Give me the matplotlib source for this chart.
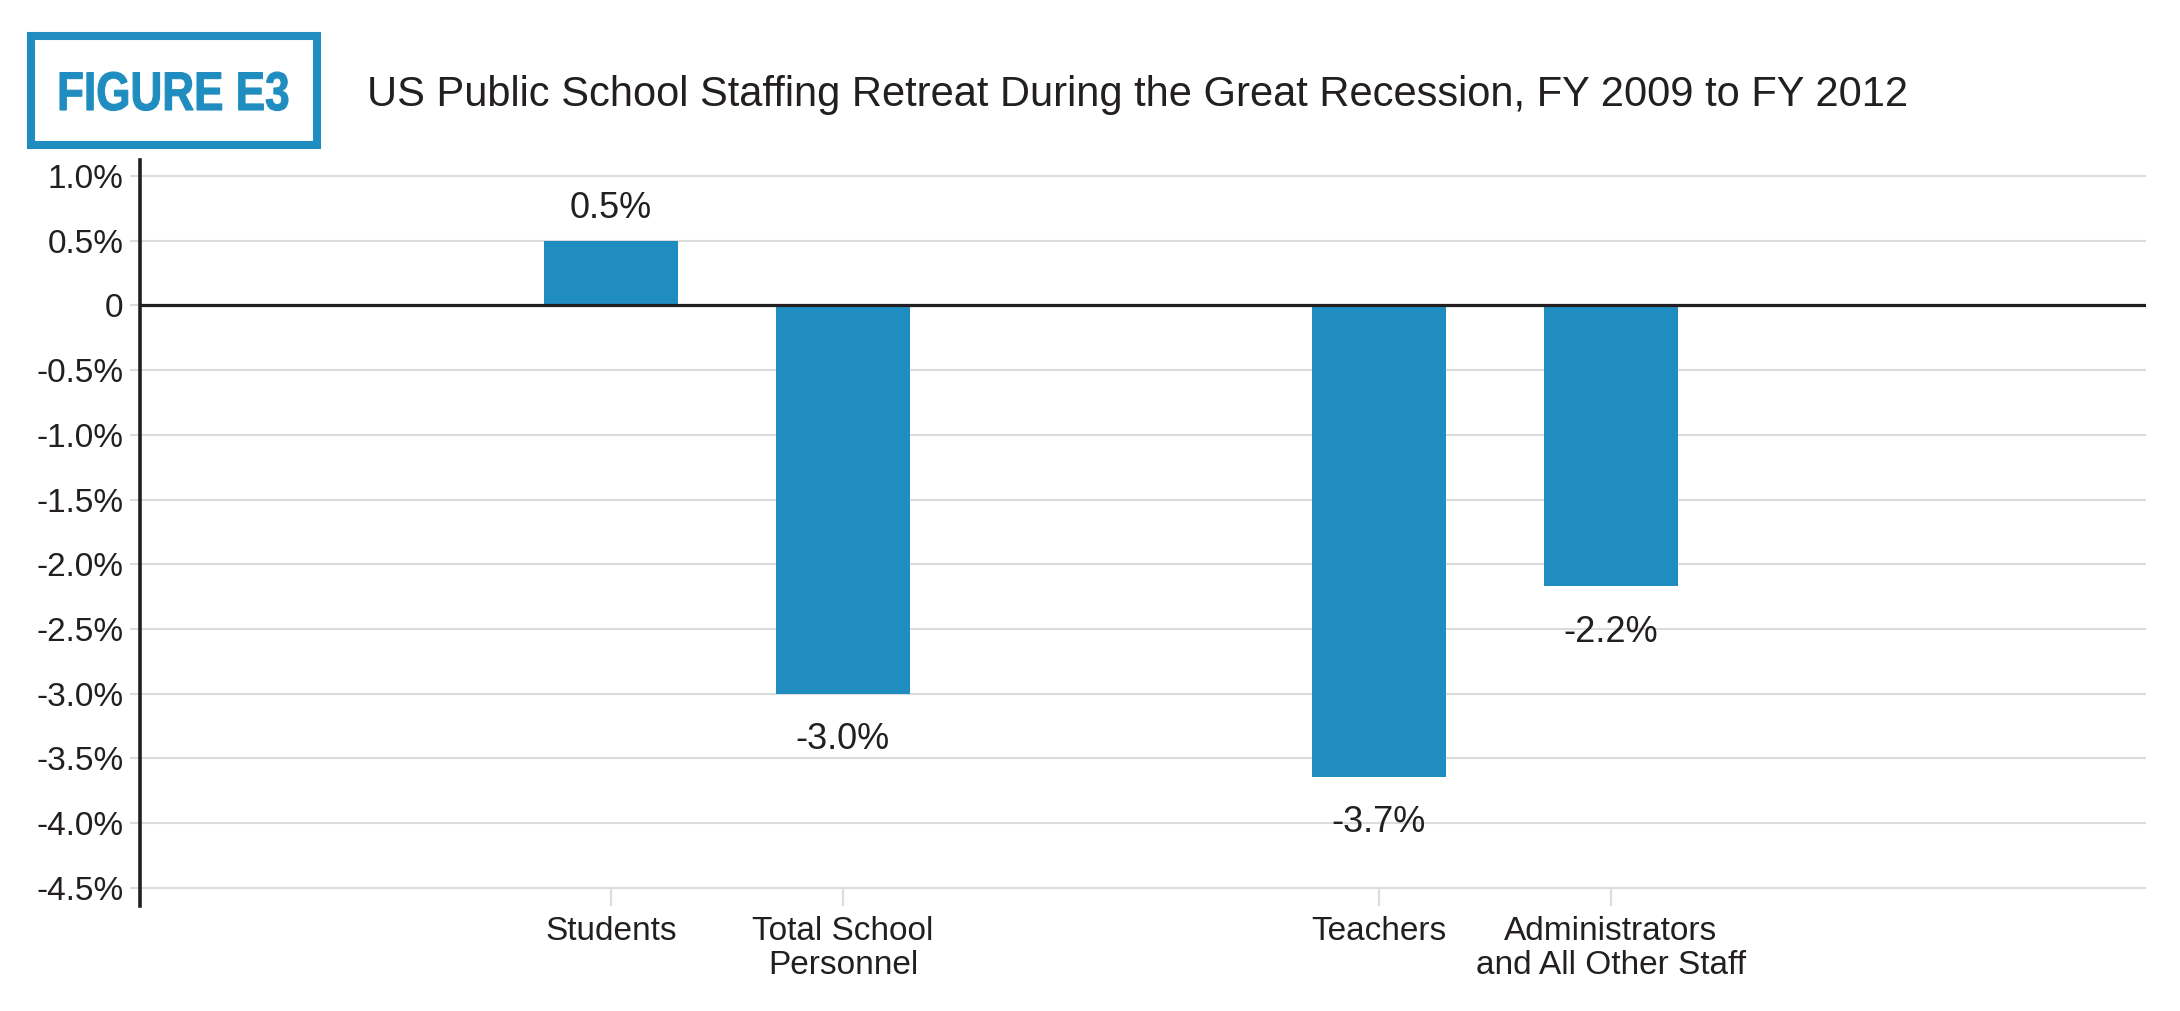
import matplotlib
matplotlib.use("Agg")
import matplotlib.pyplot as plt
from matplotlib.patches import Rectangle, PathPatch
from matplotlib.textpath import TextPath
from matplotlib.font_manager import FontProperties
from matplotlib.transforms import Affine2D

# data
categorias = ["Students", "Total School\nPersonnel", "Teachers", "Administrators\nand All Other Staff"]
posicoes = [2.03, 3.03, 5.34, 6.34]
variacao = [0.5, -3.0, -3.64, -2.17]
rotulos = ["0.5%", "-3.0%", "-3.7%", "-2.2%"]
yticks = [1.0, 0.5, 0, -0.5, -1.0, -1.5, -2.0, -2.5, -3.0, -3.5, -4.0, -4.5]
ytick_labels = ["1.0%", "0.5%", "0", "-0.5%", "-1.0%", "-1.5%", "-2.0%",
                "-2.5%", "-3.0%", "-3.5%", "-4.0%", "-4.5%"]

azul = "#208DC0"
escuro = "#231F20"
cinza = "#DCDCDC"

L, H = 2180, 1011

plt.rcParams["font.family"] = ["Liberation Sans", "DejaVu Sans"]

fig = plt.figure(figsize = (L/100, H/100), dpi = 100)
fig.patch.set_facecolor("white")

ax = fig.add_axes([140/L, 1 - 906/H, (2146 - 140)/L, (906 - 160)/H])

ax.bar(posicoes, variacao, width = 0.578, color = azul, zorder = 2)
ax.axhline(0, color = escuro, lw = 2.3, zorder = 3)

for x, v, r in zip(posicoes, variacao, rotulos):
    dy = 16.5 if v > 0 else -40
    ax.annotate(r, (x, v), xytext = (0, dy), textcoords = "offset points",
                ha = "center", va = "baseline", fontsize = 26, color = escuro)

ax.set_xlim(0, 8.647)
ax.set_ylim(-4.64, 1.124)
ax.set_yticks(yticks)
ax.set_yticklabels(ytick_labels)
ax.set_xticks(posicoes)
ax.set_xticklabels(categorias, linespacing = 1.15)

ax.grid(axis = "y", color = cinza, lw = 1.5, zorder = 0)
ax.tick_params(axis = "y", length = 7, width = 1.5, color = cinza, pad = 5,
               labelsize = 24, labelcolor = escuro)
ax.tick_params(axis = "x", direction = "in", length = 13, width = 1.5, color = cinza,
               pad = 7, labelsize = 24, labelcolor = escuro)

for lado in ["top", "right", "bottom"]:
    ax.spines[lado].set_visible(False)
ax.spines["left"].set_color(escuro)
ax.spines["left"].set_linewidth(2.6)
ax.spines["left"].set_zorder(4)

# caixa "FIGURE E3"
fig.patches.append(Rectangle((31/L, 1 - 145/H), 286/L, 109/H,
                             transform = fig.transFigure, fill = False,
                             edgecolor = azul, lw = 5.8))

# letra condensada: caminho do texto esticado na horizontal
tp = TextPath((0, 0), "FIGURE E3", size = 1,
              prop = FontProperties(family = "Liberation Sans", weight = "bold"))
bb = tp.get_extents()
sx = 228 / bb.width
sy = 38 / bb.y1
trans = (Affine2D().translate(-bb.x0, 0).scale(sx / L, sy / H)
         .translate(60 / L, 1 - 110 / H) + fig.transFigure)
fig.patches.append(PathPatch(tp, transform = trans, facecolor = azul,
                             edgecolor = azul, lw = 0.8))

fig.text(367/L, 1 - 106/H,
         "US Public School Staffing Retreat During the Great Recession, FY 2009 to FY 2012",
         ha = "left", va = "baseline", fontsize = 30, color = escuro)

plt.savefig("out.png", dpi = 100, facecolor = "white")
